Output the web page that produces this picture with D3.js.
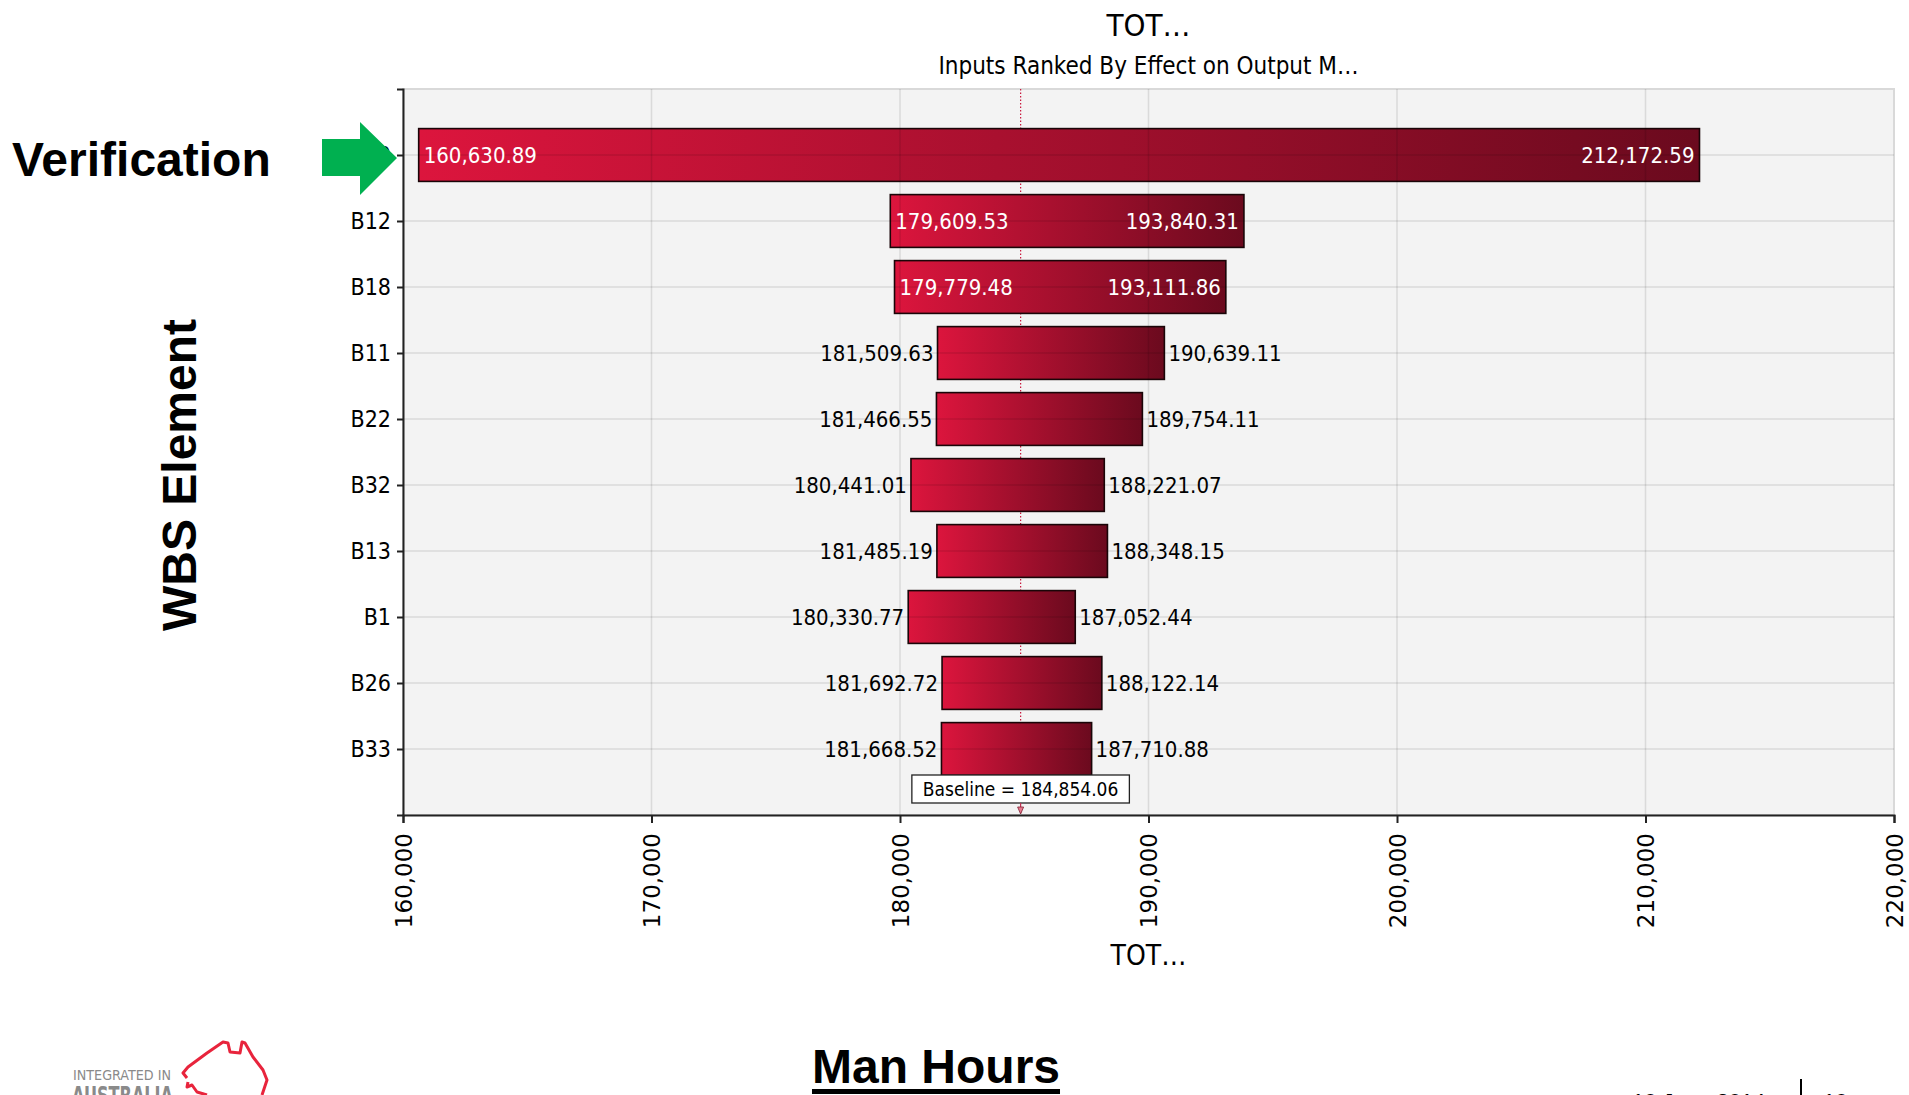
<!DOCTYPE html>
<html>
<head>
    <style>
        body { margin: 0; background: #fff; }
        svg { display: block; }
        .cond { font-family: "DejaVu Sans Condensed", "DejaVu Sans", sans-serif; font-stretch: condensed; }
        .bold { font-family: "Liberation Sans", Arial, sans-serif; font-weight: bold; }
        .x-axis text { font-family: "DejaVu Sans", sans-serif; font-size: 23px; fill: #000; }
        .y-axis text { font-family: "DejaVu Sans Condensed", "DejaVu Sans", sans-serif; font-stretch: condensed; font-size: 23px; fill: #000; }
        .x-axis path, .x-axis line, .y-axis path, .y-axis line { stroke: #222; stroke-width: 2px; }
    </style>
    <script src="https://d3js.org/d3.v7.min.js"></script>
</head>
<body>
    <svg width="1909" height="1095"></svg>
    <script>

    // tornado data, ranked by swing
    var inputs = ["B30", "B12", "B18", "B11", "B22", "B32", "B13", "B1", "B26", "B33"];
    var lowValues = [160630.89, 179609.53, 179779.48, 181509.63, 181466.55, 180441.01, 181485.19, 180330.77, 181692.72, 181668.52];
    var highValues = [212172.59, 193840.31, 193111.86, 190639.11, 189754.11, 188221.07, 188348.15, 187052.44, 188122.14, 187710.88];
    var baseline = 184854.06;
    var xTicks = [160000, 170000, 180000, 190000, 200000, 210000, 220000];

    function tornado() {
        var svg = d3.select("svg");
        var left = 403, right = 1894, top = 89, bottom = 815;

        var x = d3.scaleLinear().domain([160000, 220000]).range([left, right]);
        var y = d3.scalePoint().domain(inputs).range([top, bottom]).padding(1);
        var barH = y.step() * 0.8;
        var fmt = d3.format(",.2f");

        var defs = svg.append("defs");
        var grad = defs.append("linearGradient").attr("id", "barGrad")
            .attr("x1", "0%").attr("x2", "100%").attr("y1", "0%").attr("y2", "0%");
        grad.append("stop").attr("offset", "0%").attr("stop-color", "#dc153d");
        grad.append("stop").attr("offset", "100%").attr("stop-color", "#6b0a1e");

        // plot background + frame
        svg.append("rect")
           .attr("x", left).attr("y", top)
           .attr("width", right - left).attr("height", bottom - top)
           .attr("fill", "#f3f3f3")
           .attr("stroke", "#d9d9d9").attr("stroke-width", 2);

        // baseline dotted line (behind the bars)
        svg.append("line")
           .attr("x1", x(baseline)).attr("x2", x(baseline))
           .attr("y1", top).attr("y2", bottom - 40)
           .attr("stroke", "#c8163c").attr("stroke-width", 1.2)
           .attr("stroke-dasharray", "1.5,2");

        var data = inputs.map(function(d, i) {
            return { name: d, lo: lowValues[i], hi: highValues[i] };
        });

        var rows = svg.selectAll(".row").data(data).enter().append("g").attr("class", "row");

        rows.append("rect")
            .attr("x", function(d) { return x(d.lo); })
            .attr("y", function(d) { return y(d.name) - barH / 2; })
            .attr("width", function(d) { return x(d.hi) - x(d.lo); })
            .attr("height", barH)
            .attr("fill", "url(#barGrad)")
            .attr("stroke", "#1a0508").attr("stroke-width", 1.6);

        // grid lines drawn over bars, faint
        var grid = svg.append("g").attr("stroke", "#000").attr("stroke-opacity", 0.1).attr("stroke-width", 1.6);
        grid.selectAll(".vg").data(xTicks.slice(1, -1)).enter().append("line")
            .attr("x1", function(d) { return x(d); }).attr("x2", function(d) { return x(d); })
            .attr("y1", top).attr("y2", bottom);
        grid.selectAll(".hg").data(inputs).enter().append("line")
            .attr("x1", left).attr("x2", right)
            .attr("y1", function(d) { return y(d); }).attr("y2", function(d) { return y(d); });

        // value labels
        var labels = svg.append("g").attr("class", "cond").style("font-size", "22px");
        data.forEach(function(d) {
            var w = x(d.hi) - x(d.lo);
            var inside = w > 250;
            var cy = y(d.name);
            labels.append("text")
                .attr("x", inside ? x(d.lo) + 5 : x(d.lo) - 4)
                .attr("y", cy).attr("dy", "0.36em")
                .attr("text-anchor", inside ? "start" : "end")
                .attr("fill", inside ? "#fff" : "#000")
                .text(fmt(d.lo));
            labels.append("text")
                .attr("x", inside ? x(d.hi) - 5 : x(d.hi) + 4)
                .attr("y", cy).attr("dy", "0.36em")
                .attr("text-anchor", inside ? "end" : "start")
                .attr("fill", inside ? "#fff" : "#000")
                .text(fmt(d.hi));
        });

        // axes
        svg.append("g").attr("class", "x-axis")
           .attr("transform", "translate(0," + bottom + ")")
           .call(d3.axisBottom(x).tickValues(xTicks).tickFormat(d3.format(",")).tickSize(8))
           .selectAll("text")
           .attr("transform", "rotate(-90)")
           .attr("x", -18).attr("y", 0).attr("dy", "0.36em")
           .style("text-anchor", "end");

        svg.append("g").attr("class", "y-axis")
           .attr("transform", "translate(" + left + ",0)")
           .call(d3.axisLeft(y).tickSize(6).tickPadding(6));

        // baseline marker box
        var bx = x(baseline);
        var bl = svg.append("g");
        var bt = bl.append("text").attr("class", "cond")
            .attr("x", bx).attr("y", 789).attr("dy", "0.36em")
            .attr("text-anchor", "middle").style("font-size", "19px")
            .text("Baseline = " + fmt(baseline));
        var bw = bt.node().getComputedTextLength() + 22;
        bl.insert("rect", "text")
          .attr("x", bx - bw / 2).attr("y", 775)
          .attr("width", bw).attr("height", 28)
          .attr("fill", "#fff").attr("stroke", "#222").attr("stroke-width", 1.3);
        bl.append("line").attr("x1", bx).attr("x2", bx).attr("y1", 803).attr("y2", 813)
          .attr("stroke", "#c03050").attr("stroke-width", 1.2);
        bl.append("path").attr("d", "M" + (bx - 3) + ",807L" + (bx + 3) + ",807L" + bx + ",814Z")
          .attr("fill", "#e87a90").attr("stroke", "#802030").attr("stroke-width", 0.8);

        // titles
        var cx = (left + right) / 2;
        svg.append("text").attr("class", "cond").attr("x", cx).attr("y", 36)
           .attr("text-anchor", "middle").style("font-size", "31px").text("TOT…");
        svg.append("text").attr("class", "cond").attr("x", cx).attr("y", 74)
           .attr("text-anchor", "middle").style("font-size", "24px")
           .text("Inputs Ranked By Effect on Output M…");
        svg.append("text").attr("class", "cond").attr("x", cx).attr("y", 965)
           .attr("text-anchor", "middle").style("font-size", "28px").text("TOT…");

        // slide annotations
        svg.append("text").attr("class", "bold")
           .attr("transform", "translate(196,475) rotate(-90)")
           .attr("text-anchor", "middle").style("font-size", "48px").text("WBS Element");
        svg.append("text").attr("class", "bold").attr("x", 12).attr("y", 176)
           .style("font-size", "48px").text("Verification");
        svg.append("path")
           .attr("d", "M322,139L360,139L360,122L397,158L360,195L360,176L322,176Z")
           .attr("fill", "#00b050");

        var mh = svg.append("text").attr("class", "bold").attr("x", 936).attr("y", 1083)
           .attr("text-anchor", "middle").style("font-size", "48px").text("Man Hours");
        var mw = mh.node().getComputedTextLength();
        svg.append("rect").attr("x", 936 - mw / 2).attr("y", 1089).attr("width", mw).attr("height", 5).attr("fill", "#000");

        // logo + footer (cut by the bottom edge, as in the slide)
        svg.append("text").attr("x", 73).attr("y", 1080)
           .attr("textLength", 98).attr("lengthAdjust", "spacingAndGlyphs")
           .style("font-family", "'DejaVu Sans Condensed', sans-serif")
           .style("font-size", "14px").attr("fill", "#8a8a8a").text("INTEGRATED IN");
        svg.append("text").attr("x", 72).attr("y", 1104)
           .attr("textLength", 101).attr("lengthAdjust", "spacingAndGlyphs")
           .style("font-family", "'DejaVu Sans Condensed', sans-serif").style("font-weight", "bold")
           .style("font-size", "25px").attr("fill", "#8a8a8a").text("AUSTRALIA");
        svg.append("path")
           .attr("d", "M187,1078L183,1073L188,1067L207,1053L223,1042L228,1043L230,1052L240,1053L242,1042L245,1043L253,1057L263,1070L267,1080L262,1095M207,1095L197,1092L192,1085L187,1087L188,1082")
           .attr("fill", "none").attr("stroke", "#e8243c").attr("stroke-width", 3).attr("stroke-linejoin", "round");

        svg.append("text").attr("x", 1632).attr("y", 1109)
           .style("font-family", "'Liberation Sans', Arial, sans-serif").style("font-size", "22px")
           .text("10 June 2014");
        svg.append("line").attr("x1", 1801).attr("x2", 1801).attr("y1", 1079).attr("y2", 1095)
           .attr("stroke", "#000").attr("stroke-width", 2);
        svg.append("text").attr("x", 1823).attr("y", 1109)
           .style("font-family", "'Liberation Sans', Arial, sans-serif").style("font-size", "22px")
           .text("10");
    }
    tornado();
    </script>
</body>
</html>
